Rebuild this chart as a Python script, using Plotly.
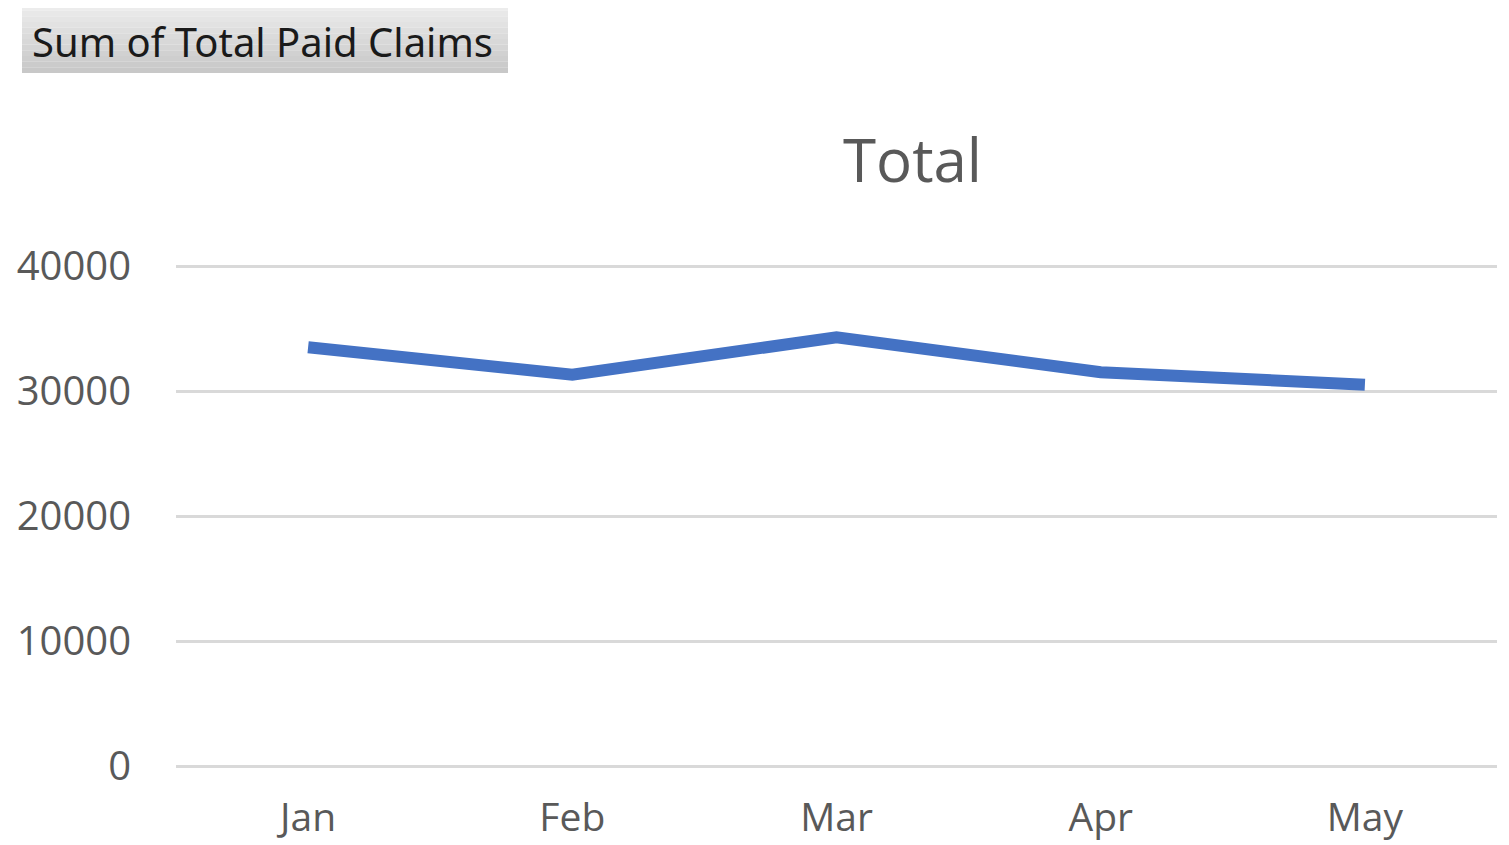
import plotly.graph_objects as go

months = ["Jan", "Feb", "Mar", "Apr", "May"]
total_paid = [33500, 31300, 34300, 31500, 30500]
y_ticks = [0, 10000, 20000, 30000, 40000]

# The page body adds an 8px offset; build the figure in shifted coordinates
OFF = 8
W, H = 1509 - OFF, 845 - OFF
# pixel positions (page coords) of y=0 and y=40000 in the reference
Y0_PX, Y40_PX = 766 - OFF, 266 - OFF
PAD = 200  # extend the range a bit so edge gridlines are drawn
per_unit = (Y0_PX - Y40_PX) / 40000
T = int(round(Y40_PX - PAD * per_unit))
B = int(round(H - (Y0_PX + PAD * per_unit)))
L, R = 176 - OFF, 12
pw, ph = W - L - R, H - T - B
ymin = -(H - B - Y0_PX) / per_unit
ymax = 40000 + (Y40_PX - T) / per_unit

def px(x):
    return (x - OFF - L) / pw

def py(y):
    return (H - B - (y - OFF)) / ph

fig = go.Figure()
fig.add_trace(go.Scatter(
    x=months, y=total_paid, mode="lines",
    line=dict(color="#4472C4", width=12),
    hoverinfo="x+y", showlegend=False,
))

# pivot field button (gradient approximation)
steps = 12
y_top, y_bot = 5, 73
for i in range(steps):
    a = y_top + (y_bot - y_top) * i / steps
    b = y_top + (y_bot - y_top) * (i + 1) / steps
    g = int(236 - (236 - 200) * i / (steps - 1))
    fig.add_shape(type="rect", xref="paper", yref="paper",
                  x0=px(22), x1=px(508), y0=py(b), y1=py(a),
                  fillcolor=f"rgb({g},{g},{g})", line=dict(width=0), layer="below")

fig.add_annotation(text="Sum of Total Paid Claims", xref="paper", yref="paper",
                   x=px(262), y=py(41), showarrow=False,
                   font=dict(family="Noto Sans", size=40, color="#1a1a1a"),
                   xanchor="center", yanchor="middle")

fig.add_annotation(text="Total", xref="paper", yref="paper",
                   x=px(912), y=py(159), showarrow=False,
                   font=dict(family="Open Sans", size=60, color="#595959"),
                   xanchor="center", yanchor="middle")

fig.update_layout(
    template="none",
    width=W, height=H,
    margin=dict(l=L, r=R, t=T, b=B, pad=0, autoexpand=False),
    paper_bgcolor="white", plot_bgcolor="white",
    xaxis=dict(
        type="category", range=[-0.5, 4.5], showgrid=False, showline=False,
        zeroline=False, tickfont=dict(family="Open Sans", size=39, color="#595959"),
        ticks="outside", ticklen=14, tickcolor="rgba(0,0,0,0)",
        automargin=False, fixedrange=True,
    ),
    yaxis=dict(
        range=[ymin, ymax], tickvals=y_ticks, ticktext=[str(v) for v in y_ticks],
        showgrid=True, gridcolor="#d9d9d9", gridwidth=3,
        zeroline=False, showline=False, ticks="",
        tickfont=dict(family="Open Sans", size=40, color="#595959"),
        ticklabelstandoff=44, automargin=False, fixedrange=True,
    ),
)

fig.write_html("out.html")
